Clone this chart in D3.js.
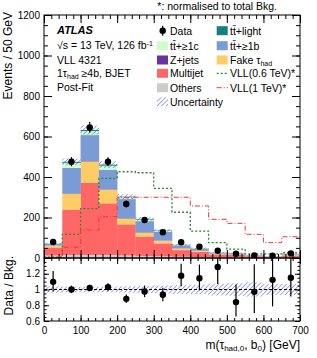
<!DOCTYPE html>
<html>
<head>
<meta charset="utf-8">
<script src="https://cdnjs.cloudflare.com/ajax/libs/d3/7.8.5/d3.min.js"></script>
<style>
  body { margin: 0; background: #fff; }
  text { font-family: "Liberation Sans", Arial, sans-serif; fill: #000; }
</style>
</head>
<body>
<div id="chart"></div>
<script>
// bin low edges [GeV], 50 GeV wide
let binLow = [0, 50, 100, 150, 200, 250, 300, 350, 400, 450, 500, 550, 600, 650];

// background stack (events / bin)
let others   = [12, 15, 15, 15, 12, 10, 8, 6, 5, 4, 3, 2, 1.5, 2];
let multijet = [40, 222, 357, 255, 154, 95, 64, 33, 25, 14, 13, 7, 5, 11];
let fakeTau  = [9, 79, 105, 67, 28, 20, 13, 8, 5, 3, 2.5, 1.2, 1, 2];
let zjets    = [1, 2, 2, 2, 2, 2, 1, 1, 1, 0.5, 0.5, 0.1, 0.1, 0.2];
let ttb      = [7, 127, 128, 97, 95, 55, 43, 15, 10, 5, 5, 2.5, 1.8, 4];
let ttc      = [2, 25, 20, 20, 10, 8, 5, 2, 2, 1, 0.7, 0.4, 0.3, 0.6];
let ttlight  = [1, 5, 5, 5, 2, 3, 2, 1, 1, 0.5, 0.3, 0.2, 0.1, 0.2];

// relative bkg uncertainty per bin
let bkgUnc = [0.04, 0.035, 0.035, 0.035, 0.04, 0.045, 0.05, 0.055, 0.06, 0.075, 0.08, 0.09, 0.07, 0.07];

// data
let data    = [79, 475, 645, 475, 267, 188, 127, 77.5, 56, 36, 21, 13, 11, 23];
let dataUp  = [10, 23, 26, 23, 17, 14.5, 12, 10, 8.5, 7, 5.6, 4.7, 4.4, 5.8];
let dataDn  = [8.9, 21.8, 25.4, 21.8, 16.3, 13.7, 11.3, 8.8, 7.5, 6, 4.6, 3.6, 3.3, 4.8];

// signals, normalised to total bkg
let vll06 = [4, 117, 244, 393, 426, 421, 344, 226, 133, 76, 44, 20, 20, 26];
let vll1  = [2, 53, 138, 204, 298, 300, 300, 300, 257, 191, 171, 117, 76, 105];

let yTicksMain  = [0, 200, 400, 600, 800, 1000, 1200];
let yTicksRatio = [0.6, 0.8, 1, 1.2];
let xTicks      = [0, 100, 200, 300, 400, 500, 600, 700];

let binW = 50;

let components = [
  {name: "Others",   vals: others,   color: "#cccccc"},
  {name: "Multijet", vals: multijet, color: "#ff6666"},
  {name: "Fake",     vals: fakeTau,  color: "#ffcc66"},
  {name: "Z+jets",   vals: zjets,    color: "#6a32a0"},
  {name: "ttb",      vals: ttb,      color: "#7b9bd6"},
  {name: "ttc",      vals: ttc,      color: "#ccffcc"},
  {name: "ttlight",  vals: ttlight,  color: "#148080"}
];

let W = 317, H = 358;
let left = 44, right = 300, mainTop = 15, mainBot = 258, ratioTop = 258, ratioBot = 321;

let svg = d3.select("#chart").append("svg")
    .attr("width", W).attr("height", H);

let defs = svg.append("defs");
let pat = defs.append("pattern")
    .attr("id", "hatch")
    .attr("patternUnits", "userSpaceOnUse")
    .attr("width", 3.2).attr("height", 3.2)
    .attr("patternTransform", "rotate(45)");
pat.append("line")
    .attr("x1", 0).attr("y1", 0).attr("x2", 0).attr("y2", 3.2)
    .attr("stroke", "#4455dd").attr("stroke-width", 1);

defs.append("clipPath").attr("id", "clipMain").append("rect")
    .attr("x", left).attr("y", mainTop).attr("width", right - left).attr("height", mainBot - mainTop);
defs.append("clipPath").attr("id", "clipRatio").append("rect")
    .attr("x", left).attr("y", ratioTop).attr("width", right - left).attr("height", ratioBot - ratioTop);

let x = d3.scaleLinear().domain([0, 700]).range([left, right]);
let y = d3.scaleLinear().domain([0, 1200]).range([mainBot, mainTop]);
let yr = d3.scaleLinear().domain([0.6, 1.4]).range([ratioBot, ratioTop]);

// ---- stack
let rows = binLow.map(function(b, i) {
  let r = {lo: b};
  components.forEach(function(c) { r[c.name] = c.vals[i]; });
  return r;
});
let stack = d3.stack().keys(components.map(function(c) { return c.name; }))(rows);
let total = rows.map(function(r, i) { return stack[stack.length - 1][i][1]; });

let gMain = svg.append("g").attr("clip-path", "url(#clipMain)");

stack.forEach(function(layer, k) {
  gMain.append("g").selectAll("rect")
      .data(layer)
      .enter().append("rect")
      .attr("x", function(d) { return x(d.data.lo); })
      .attr("width", x(binW) - x(0) + 0.3)
      .attr("y", function(d) { return y(d[1]); })
      .attr("height", function(d) { return Math.max(0, y(d[0]) - y(d[1])); })
      .attr("fill", components[k].color);
});

// uncertainty band on total
gMain.append("g").selectAll("rect")
    .data(binLow)
    .enter().append("rect")
    .attr("x", function(d) { return x(d); })
    .attr("width", x(binW) - x(0))
    .attr("y", function(d, i) { return y(total[i] * (1 + bkgUnc[i])); })
    .attr("height", function(d, i) { return y(total[i] * (1 - bkgUnc[i])) - y(total[i] * (1 + bkgUnc[i])); })
    .attr("fill", "url(#hatch)");

// signal step lines
function stepPts(vals) {
  let pts = [];
  binLow.forEach(function(b, i) {
    pts.push([b, vals[i]]);
    pts.push([b + binW, vals[i]]);
  });
  return pts;
}
let line = d3.line().x(function(d) { return x(d[0]); }).y(function(d) { return y(d[1]); });

gMain.append("path")
    .attr("d", line(stepPts(vll06)))
    .attr("fill", "none").attr("stroke", "#2a8a2a").attr("stroke-width", 1.3)
    .attr("stroke-dasharray", "2,2");
gMain.append("path")
    .attr("d", line(stepPts(vll1)))
    .attr("fill", "none").attr("stroke", "#ff3333").attr("stroke-width", 1)
    .attr("stroke-dasharray", "5,2,1,2");

// data points
let centers = binLow.map(function(b) { return b + binW / 2; });
gMain.append("g").selectAll("line")
    .data(data).enter().append("line")
    .attr("x1", function(d, i) { return x(centers[i]); })
    .attr("x2", function(d, i) { return x(centers[i]); })
    .attr("y1", function(d, i) { return y(d + dataUp[i]); })
    .attr("y2", function(d, i) { return y(d - dataDn[i]); })
    .attr("stroke", "#000").attr("stroke-width", 1.2);
gMain.append("g").selectAll("circle")
    .data(data).enter().append("circle")
    .attr("cx", function(d, i) { return x(centers[i]); })
    .attr("cy", function(d) { return y(d); })
    .attr("r", 3.2).attr("fill", "#000");

// ---- ratio panel
let gRatio = svg.append("g").attr("clip-path", "url(#clipRatio)");
gRatio.append("g").selectAll("rect")
    .data(binLow).enter().append("rect")
    .attr("x", function(d) { return x(d); })
    .attr("width", x(binW) - x(0))
    .attr("y", function(d, i) { return yr(1 + bkgUnc[i]); })
    .attr("height", function(d, i) { return yr(1 - bkgUnc[i]) - yr(1 + bkgUnc[i]); })
    .attr("fill", "url(#hatch)");
gRatio.append("line")
    .attr("x1", left).attr("x2", right).attr("y1", yr(1)).attr("y2", yr(1))
    .attr("stroke", "#000").attr("stroke-width", 1).attr("stroke-dasharray", "3,2");
gRatio.append("g").selectAll("line")
    .data(data).enter().append("line")
    .attr("x1", function(d, i) { return x(centers[i]); })
    .attr("x2", function(d, i) { return x(centers[i]); })
    .attr("y1", function(d, i) { return yr((d + dataUp[i]) / total[i]); })
    .attr("y2", function(d, i) { return yr((d - dataDn[i]) / total[i]); })
    .attr("stroke", "#000").attr("stroke-width", 1.2);
gRatio.append("g").selectAll("circle")
    .data(data).enter().append("circle")
    .attr("cx", function(d, i) { return x(centers[i]); })
    .attr("cy", function(d, i) { return yr(d / total[i]); })
    .attr("r", 3.2).attr("fill", "#000");

// ---- axes
function range(a, b, s) { return d3.range(a, b + s / 2, s); }

function drawAxis(axisFn, scale, transform, major, minor, lenMaj, lenMin, fmt) {
  svg.append("g").attr("transform", transform)
      .call(axisFn(scale).tickValues(minor).tickSize(-lenMin).tickFormat(""))
      .call(function(g) { g.select(".domain").remove(); });
  let g = svg.append("g").attr("transform", transform)
      .call(axisFn(scale).tickValues(major).tickSize(-lenMaj).tickPadding(4).tickFormat(fmt || ""))
      .call(function(g) { g.select(".domain").remove(); });
  g.selectAll("text").style("font-size", "10px").style("font-family", "Liberation Sans, Arial, sans-serif");
  return g;
}

// main panel
drawAxis(d3.axisBottom, x, "translate(0," + mainBot + ")", xTicks, range(0, 700, 20), 8, 4);
drawAxis(d3.axisTop, x, "translate(0," + mainTop + ")", xTicks, range(0, 700, 20), 8, 4);
drawAxis(d3.axisLeft, y, "translate(" + left + ",0)", yTicksMain, range(0, 1200, 50), 8, 4, d3.format("d"));
drawAxis(d3.axisRight, y, "translate(" + right + ",0)", yTicksMain, range(0, 1200, 50), 8, 4);

// ratio panel
let xa = drawAxis(d3.axisBottom, x, "translate(0," + ratioBot + ")", xTicks, range(0, 700, 20), 6, 3, d3.format("d"));
xa.selectAll("text").attr("dy", "0.9em");
drawAxis(d3.axisTop, x, "translate(0," + ratioTop + ")", xTicks, range(0, 700, 20), 6, 3);
drawAxis(d3.axisLeft, yr, "translate(" + left + ",0)", yTicksRatio, range(0.6, 1.4, 0.05), 5, 2.5, function(d) { return d3.format("~g")(d); });
drawAxis(d3.axisRight, yr, "translate(" + right + ",0)", yTicksRatio, range(0.6, 1.4, 0.05), 5, 2.5);

svg.selectAll(".tick line").attr("stroke", "#000");

// frames
svg.append("rect").attr("x", left).attr("y", mainTop).attr("width", right - left).attr("height", mainBot - mainTop)
    .attr("fill", "none").attr("stroke", "#000").attr("stroke-width", 1);
svg.append("rect").attr("x", left).attr("y", ratioTop).attr("width", right - left).attr("height", ratioBot - ratioTop)
    .attr("fill", "none").attr("stroke", "#000").attr("stroke-width", 1);

// axis titles
svg.append("text")
    .attr("transform", "translate(12,12) rotate(-90)")
    .attr("text-anchor", "end")
    .style("font-size", "12px")
    .text("Events / 50 GeV");
svg.append("text")
    .attr("transform", "translate(13,256) rotate(-90)")
    .attr("text-anchor", "end")
    .style("font-size", "12px")
    .text("Data / Bkg.");

let xt = svg.append("text")
    .attr("x", right).attr("y", 349)
    .attr("text-anchor", "end")
    .style("font-size", "12px");
xt.append("tspan").text("m(τ");
xt.append("tspan").attr("baseline-shift", "-30%").style("font-size", "8px").text("had,0");
xt.append("tspan").text(", b");
xt.append("tspan").attr("baseline-shift", "-30%").style("font-size", "8px").text("0");
xt.append("tspan").text(") [GeV]");

// top note
svg.append("text")
    .attr("x", 277).attr("y", 10)
    .attr("text-anchor", "end")
    .style("font-size", "10.5px")
    .text("*: normalised to total Bkg.");

// ATLAS labels
let lx = 57;
svg.append("text").attr("x", lx).attr("y", 34)
    .style("font-size", "11px").style("font-weight", "bold").style("font-style", "italic")
    .text("ATLAS");
let t2 = svg.append("text").attr("x", lx).attr("y", 49).style("font-size", "10.5px");
t2.append("tspan").text("√s = 13 TeV, 126 fb");
t2.append("tspan").attr("baseline-shift", "super").style("font-size", "7px").text("-1");
svg.append("text").attr("x", lx).attr("y", 63.5).style("font-size", "10.5px").text("VLL 4321");
let t4 = svg.append("text").attr("x", lx).attr("y", 77).style("font-size", "10.5px");
t4.append("tspan").text("1τ");
t4.append("tspan").attr("baseline-shift", "-30%").style("font-size", "7px").text("had");
t4.append("tspan").text("  ≥4b, BJET");
svg.append("text").attr("x", lx).attr("y", 91).style("font-size", "10.5px").text("Post-Fit");

// ---- legend
let rowY = [30.7, 45.7, 60, 73.3, 87.7, 101.7];
let leg = svg.append("g").style("font-size", "10.5px");

function legText(xp, yc, parts) {
  let t = leg.append("text").attr("x", xp).attr("y", yc + 3.8);
  parts.forEach(function(p) {
    let s = t.append("tspan").text(p[0]);
    if (p[1] === "sub") s.attr("baseline-shift", "-30%").style("font-size", "7px");
  });
}
function legBox(xp, yc, fill) {
  leg.append("rect").attr("x", xp).attr("y", yc - 4.5).attr("width", 11).attr("height", 9).attr("fill", fill);
}

// column 1
leg.append("line").attr("x1", 162.7).attr("x2", 162.7).attr("y1", rowY[0] - 5).attr("y2", rowY[0] + 5)
    .attr("stroke", "#000").attr("stroke-width", 1.2);
leg.append("circle").attr("cx", 162.7).attr("cy", rowY[0]).attr("r", 3.2).attr("fill", "#000");
legText(170, rowY[0], [["Data"]]);
legBox(157, rowY[1], "#ccffcc");
legText(170, rowY[1], [["tt\u0304+≥1c"]]);
legBox(157, rowY[2], "#6a32a0");
legText(170, rowY[2], [["Z+jets"]]);
legBox(157, rowY[3], "#ff6666");
legText(170, rowY[3], [["Multijet"]]);
legBox(157, rowY[4], "#cccccc");
legText(170, rowY[4], [["Others"]]);
legBox(157, rowY[5], "url(#hatch)");
legText(170, rowY[5], [["Uncertainty"]]);

// column 2
legBox(216.7, rowY[0], "#148080");
legText(230, rowY[0], [["tt\u0304+light"]]);
legBox(216.7, rowY[1], "#7b9bd6");
legText(230, rowY[1], [["tt\u0304+≥1b"]]);
legBox(216.7, rowY[2], "#ffcc66");
legText(230, rowY[2], [["Fake τ"], ["had", "sub"]]);
leg.append("line").attr("x1", 216.7).attr("x2", 228).attr("y1", rowY[3]).attr("y2", rowY[3])
    .attr("stroke", "#2a8a2a").attr("stroke-width", 1.3).attr("stroke-dasharray", "2,2");
legText(230, rowY[3], [["VLL(0.6 TeV)*"]]);
leg.append("line").attr("x1", 216.7).attr("x2", 228).attr("y1", rowY[4]).attr("y2", rowY[4])
    .attr("stroke", "#ff3333").attr("stroke-width", 1).attr("stroke-dasharray", "5,2,1,2");
legText(230, rowY[4], [["VLL(1 TeV)*"]]);
</script>
</body>
</html>
